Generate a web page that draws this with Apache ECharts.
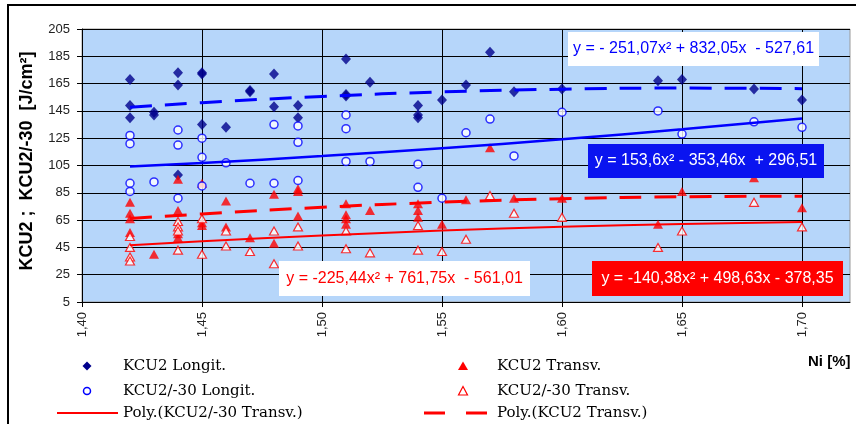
<!DOCTYPE html>
<html><head><meta charset="utf-8">
<script src="https://cdn.jsdelivr.net/npm/echarts@6/dist/echarts.min.js"></script>
<style>html,body{margin:0;padding:0;background:#fff}#c{width:856px;height:424px}</style>
</head><body><div id="c"></div>
<script>
// Axis ticks
const xTicks = [1.40, 1.45, 1.50, 1.55, 1.60, 1.65, 1.70];
const yTicks = [5, 25, 45, 65, 85, 105, 125, 145, 165, 185, 205];

// Data: [Ni %, value]
const kcu2Longit = [
  [1.42,168],[1.42,149],[1.42,140],[1.43,144],[1.43,142],[1.44,173],[1.44,164],[1.44,98],
  [1.45,172],[1.45,173],[1.45,135],[1.46,133],[1.47,159],[1.47,160],[1.48,172],[1.48,148],
  [1.49,149],[1.49,140],[1.51,183],[1.51,157],[1.51,156],[1.52,166],[1.54,149],[1.54,142],[1.54,140],
  [1.55,153],[1.56,164],[1.57,188],[1.58,159],[1.60,161],[1.64,167],[1.65,168],[1.68,161],[1.70,153]
];
const kcu2Longit30 = [
  [1.42,127],[1.42,121],[1.42,92],[1.42,86],[1.43,93],[1.44,131],[1.44,120],[1.44,81],
  [1.45,125],[1.45,111],[1.45,90],[1.46,107],[1.47,92],[1.48,135],[1.48,92],
  [1.49,134],[1.49,122],[1.49,94],[1.51,142],[1.51,132],[1.51,108],[1.52,108],[1.54,106],[1.54,89],
  [1.55,81],[1.56,129],[1.57,139],[1.58,112],[1.60,144],[1.64,145],[1.65,128],[1.68,137],[1.70,133]
];
const kcu2Transv = [
  [1.42,78],[1.42,70],[1.42,66],[1.42,56],[1.43,40],[1.44,95],[1.44,72],[1.44,55],[1.44,52],
  [1.45,92],[1.45,63],[1.45,61],[1.46,79],[1.46,60],[1.47,52],[1.48,84],[1.48,48],
  [1.49,88],[1.49,86],[1.49,68],[1.51,77],[1.51,69],[1.51,66],[1.51,62],[1.52,72],
  [1.54,77],[1.54,72],[1.54,67],[1.55,62],[1.56,80],[1.57,118],[1.58,81],[1.60,81],
  [1.64,62],[1.65,86],[1.68,96],[1.70,74]
];
const kcu2Transv30 = [
  [1.42,53],[1.42,45],[1.42,38],[1.42,35],[1.44,64],[1.44,60],[1.44,57],[1.44,43],
  [1.45,66],[1.45,40],[1.46,57],[1.46,46],[1.47,42],[1.48,57],[1.48,33],[1.49,60],[1.49,46],
  [1.51,57],[1.51,44],[1.52,41],[1.54,61],[1.54,43],[1.55,42],[1.56,51],[1.57,83],
  [1.58,70],[1.60,67],[1.64,45],[1.65,57],[1.68,78],[1.70,60]
];

// Trendlines (polynomial)
const trendX = [1.42, 1.45, 1.50, 1.55, 1.60, 1.65, 1.70];
const polyLongit = [147.6, 151.0, 155.6, 158.9, 160.9, 161.7, 161.3];
const polyLongit30 = [104.3, 106.9, 111.9, 117.7, 124.2, 131.5, 139.5];
const polyTransv = [66.1, 69.5, 74.4, 78.1, 80.7, 82.1, 82.5];
const polyTransv30 = [46.6, 49.5, 53.7, 57.3, 60.1, 62.2, 63.6];

const eqLongit = 'y = - 251,07x² + 832,05x  - 527,61';
const eqLongit30 = 'y = 153,6x² - 353,46x  + 296,51';
const eqTransv = 'y = -225,44x² + 761,75x  - 561,01';
const eqTransv30 = 'y = -140,38x² + 498,63x - 378,35';

const yTitle = 'KCU2 ;  KCU2/-30  [J/cm²]';
const xTitle = 'Ni [%]';
const legendLeft = ['KCU2 Longit.', 'KCU2/-30 Longit.', 'Poly.(KCU2/-30 Transv.)'];
const legendRight = ['KCU2 Transv.', 'KCU2/-30 Transv.', 'Poly.(KCU2 Transv.)'];

const NAVY = '#00008c', BLUE = '#0000ff', RED = '#ff0000';
const pair = (xs, ys) => xs.map((x, i) => [x, ys[i]]);

function eqBox(x, y, w, h, bg, fg, txt) {
  return [
    {type:'rect', z:50, shape:{x:x, y:y, width:w, height:h}, style:{fill:bg}},
    {type:'text', z:51, x:x + w/2, y:y + h/2, style:{text:txt, fill:fg, font:'16px "Liberation Sans"', align:'center', verticalAlign:'middle'}}
  ];
}

const LF = '15px "DejaVu Serif"';
const rows = [366, 391, 413];
const graphics = [
  {type:'rect', z:0, shape:{x:8, y:5, width:900, height:500}, style:{fill:'none', stroke:'#000', lineWidth:2}},
  ...eqBox(568, 32, 251, 34, '#ffffff', BLUE, eqLongit),
  ...eqBox(588, 144, 236, 34, '#0a14f0', '#ffffff', eqLongit30),
  ...eqBox(279, 261, 251, 35, '#ffffff', RED, eqTransv),
  ...eqBox(592, 261, 251, 35, RED, '#ffffff', eqTransv30),
  {type:'text', x:27, y:161, rotation:Math.PI/2, style:{text:yTitle, fill:'#000', font:'bold 18px "Liberation Sans"', align:'center', verticalAlign:'middle'}},
  {type:'text', x:808, y:362, style:{text:xTitle, fill:'#000', font:'bold 15px "Liberation Sans"', verticalAlign:'middle'}},
  // legend left
  {type:'polygon', shape:{points:[[87,361.5],[91.5,366],[87,370.5],[82.5,366]]}, style:{fill:NAVY}},
  {type:'circle', shape:{cx:87, cy:391, r:3.5}, style:{fill:'#fff', stroke:BLUE, lineWidth:1.5}},
  {type:'line', shape:{x1:57, y1:413, x2:118, y2:413}, style:{stroke:RED, lineWidth:2}},
  // legend right
  {type:'polygon', shape:{points:[[463,361.5],[468,370],[458,370]]}, style:{fill:RED}},
  {type:'polygon', shape:{points:[[463,386.5],[467.5,395],[458.5,395]]}, style:{fill:'#fff', stroke:RED, lineWidth:1.2}},
  {type:'line', shape:{x1:424, y1:413, x2:488, y2:413}, style:{stroke:RED, lineWidth:3, lineDash:[21,21]}}
];
legendLeft.forEach((t, i) => graphics.push({type:'text', x:123, y:rows[i], style:{text:t, fill:'#000', font:LF, verticalAlign:'middle'}}));
legendRight.forEach((t, i) => graphics.push({type:'text', x:497, y:rows[i], style:{text:t, fill:'#000', font:LF, verticalAlign:'middle'}}));

const chart = echarts.init(document.getElementById('c'), null, {renderer:'canvas'});
chart.setOption({
  animation: false,
  backgroundColor: '#fff',
  grid: {left:82, top:29, width:768, height:273, show:true, backgroundColor:'rgb(182,214,250)', borderColor:'#9a9a9a', borderWidth:1},
  xAxis: {
    type:'value', min:1.40, max:1.72, interval:0.05,
    axisLine:{show:true, onZero:false, lineStyle:{color:'#000', width:1}},
    axisTick:{show:true, length:5, customValues:xTicks, lineStyle:{color:'#000'}},
    axisLabel:{customValues:xTicks, rotate:90, margin:10, fontSize:13, fontFamily:'Liberation Sans', color:'#222',
      formatter: v => v.toFixed(2).replace('.', ',')},
    splitLine:{show:true, lineStyle:{color:'#000', width:1}}
  },
  yAxis: {
    type:'value', min:5, max:205, interval:20,
    axisLine:{show:true, lineStyle:{color:'#000', width:1}},
    axisTick:{show:true, length:5, customValues:yTicks, lineStyle:{color:'#000'}},
    axisLabel:{customValues:yTicks, margin:12, fontSize:13, fontFamily:'Liberation Sans', color:'#222'},
    splitLine:{show:true, lineStyle:{color:'#000', width:1}}
  },
  graphic: graphics,
  series: [
    {name:'KCU2 Longit.', type:'scatter', z:2, symbol:'diamond', symbolSize:[10,11], itemStyle:{color:NAVY}, data:kcu2Longit},
    {name:'KCU2 Transv.', type:'scatter', z:2, symbol:'triangle', symbolSize:[10,9], itemStyle:{color:RED}, data:kcu2Transv},
    {name:'KCU2/-30 Longit.', type:'scatter', z:2, symbol:'circle', symbolSize:8, itemStyle:{color:'#fff', borderColor:BLUE, borderWidth:1.5}, data:kcu2Longit30},
    {name:'KCU2/-30 Transv.', type:'scatter', z:2, symbol:'triangle', symbolSize:[9,8], itemStyle:{color:'#fff', borderColor:RED, borderWidth:1.2}, data:kcu2Transv30},
    {name:'Poly.(KCU2 Longit.)', type:'line', z:3, smooth:true, symbol:'none', lineStyle:{color:BLUE, width:3, type:[22,13]}, data:pair(trendX, polyLongit)},
    {name:'Poly.(KCU2/-30 Longit.)', type:'line', z:3, smooth:true, symbol:'none', lineStyle:{color:BLUE, width:2.5}, data:pair(trendX, polyLongit30)},
    {name:'Poly.(KCU2 Transv.)', type:'line', z:3, smooth:true, symbol:'none', lineStyle:{color:RED, width:3, type:[22,13]}, data:pair(trendX, polyTransv)},
    {name:'Poly.(KCU2/-30 Transv.)', type:'line', z:3, smooth:true, symbol:'none', lineStyle:{color:RED, width:2}, data:pair(trendX, polyTransv30)}
  ]
});
</script></body></html>
